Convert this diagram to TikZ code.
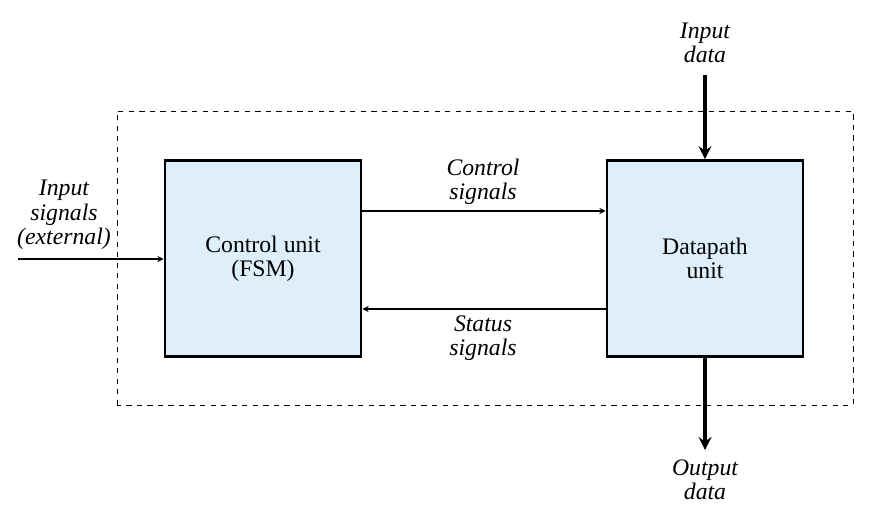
\documentclass[tikz,border=0pt]{standalone}
\usepackage{fontspec}
\setmainfont{Liberation Serif}
\usetikzlibrary{positioning}
\definecolor{boxblue}{RGB}{222,238,250}
\begin{document}
\begin{tikzpicture}[font=\fontsize{13.5}{13.8}\selectfont]

        \useasboundingbox (0,0) rectangle (17.46,10.26);
        \draw[dashed, line width=.5pt] (2.34,2.16) rectangle (17.06,8.04);

        \begin{scope}[every node/.style={draw, line width=1.6pt, fill=boxblue, align=center, minimum width=3.92cm, minimum height=3.92cm}]
          \node (ctrl) at (5.26,5.09)  {Control unit\\(FSM)};
          \node (dp)   at (14.10,5.09) {Datapath\\unit};
        \end{scope}

        \begin{scope}[every node/.style={font=\fontsize{13.5}{13.8}\selectfont\itshape, align=center}]
          \node (indata)  at (14.10,9.40) {Input\\data};
          \node (outdata) at (14.10,0.66) {Output\\data};
          \node (insig)   at (1.28,5.96)  {Input\\signals\\(external)};
          \node (ctrlsig) at (9.66,6.62)  {Control\\signals};
          \node (statsig) at (9.66,3.50)  {Status\\signals};
        \end{scope}

        \coordinate (inend)  at (14.10,8.76);
        \coordinate (outend) at (14.10,1.26);
        \coordinate (sigend) at (0.36,5.08);

        \begin{scope}[>=stealth]
          \draw[->, line width=.6pt] (sigend) -- (sigend -| ctrl.west);
          \draw[->, line width=.6pt] ([yshift=.95cm]ctrl.east) -- ([yshift=.95cm]dp.west);
          \draw[->, line width=.6pt] ([yshift=-1.01cm]dp.west) -- ([yshift=-1.01cm]ctrl.east);
          \draw[->, line width=2.2pt] (inend) -- (dp.north);
          \draw[->, line width=2.2pt] (dp.south) -- (outend);
        \end{scope}

      \end{tikzpicture}
\end{document}
